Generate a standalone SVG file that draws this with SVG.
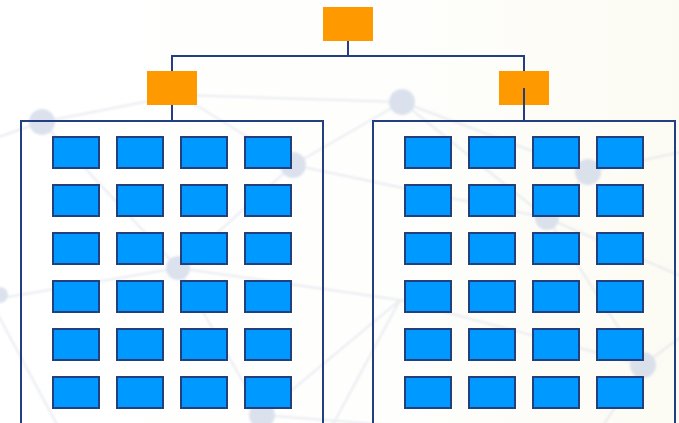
<svg xmlns="http://www.w3.org/2000/svg" width="679" height="423" viewBox="0 0 679 423">
  <defs>
    <linearGradient id="bg" x1="0" y1="0" x2="1" y2="0">
      <stop offset="0" stop-color="#ffffff"/>
      <stop offset="0.55" stop-color="#fefefd"/>
      <stop offset="1" stop-color="#fcfbf3"/>
    </linearGradient>
    <filter id="soft" x="-20%" y="-20%" width="140%" height="140%">
      <feGaussianBlur stdDeviation="1.2"/>
    </filter>
  </defs>
  <style>
    .web line { stroke: #dde1e9; stroke-width: 2; }
    .web circle { fill: #c9d3e4; }
    .head { fill: #ff9900; }
    .cell { fill: #0099ff; stroke: #233f80; stroke-width: 2; }
    .frame { fill: none; stroke: #233f80; stroke-width: 2; }
    .link { fill: none; stroke: #233f80; stroke-width: 2; }
  </style>

  <rect width="679" height="423" fill="url(#bg)"/>

  <!-- faint network backdrop -->
  <g class="web" filter="url(#soft)" opacity="0.65">
    <line x1="-10" y1="140" x2="42" y2="122"/>
    <line x1="42" y1="122" x2="180" y2="95"/>
    <line x1="180" y1="95" x2="402" y2="102"/>
    <line x1="42" y1="122" x2="178" y2="268"/>
    <line x1="180" y1="95" x2="293" y2="165"/>
    <line x1="293" y1="165" x2="178" y2="268"/>
    <line x1="293" y1="165" x2="402" y2="102"/>
    <line x1="293" y1="165" x2="547" y2="218"/>
    <line x1="402" y1="102" x2="588" y2="172"/>
    <line x1="402" y1="102" x2="547" y2="218"/>
    <line x1="588" y1="172" x2="547" y2="218"/>
    <line x1="588" y1="172" x2="690" y2="150"/>
    <line x1="547" y1="218" x2="643" y2="365"/>
    <line x1="547" y1="218" x2="690" y2="280"/>
    <line x1="643" y1="365" x2="690" y2="330"/>
    <line x1="643" y1="365" x2="600" y2="430"/>
    <line x1="178" y1="268" x2="262" y2="415"/>
    <line x1="178" y1="268" x2="-10" y2="300"/>
    <line x1="178" y1="268" x2="400" y2="300"/>
    <line x1="400" y1="300" x2="643" y2="365"/>
    <line x1="262" y1="415" x2="400" y2="300"/>
    <line x1="-10" y1="300" x2="60" y2="430"/>
    <line x1="262" y1="415" x2="450" y2="430"/>
    <line x1="400" y1="300" x2="330" y2="430"/>
    <circle cx="42" cy="122" r="13"/>
    <circle cx="293" cy="165" r="13"/>
    <circle cx="402" cy="102" r="13"/>
    <circle cx="178" cy="268" r="12"/>
    <circle cx="588" cy="172" r="13"/>
    <circle cx="547" cy="218" r="12"/>
    <circle cx="643" cy="365" r="13"/>
    <circle cx="262" cy="415" r="13"/>
    <circle cx="0" cy="295" r="8"/>
  </g>

  <!-- connectors -->
  <g id="connectors">
    <path class="link" d="M348 41 V56 M172 71 V56 H524 V71"/>
    <path class="link" d="M172 105 V120"/>
  </g>

  <!-- top level -->
  <g id="root">
    <rect class="head" x="323" y="7" width="50" height="34"/>
  </g>

  <!-- left branch -->
  <g id="branch-left">
    <rect class="head" x="147" y="71" width="50" height="34"/>
  </g>
  <g id="group-left">
    <path class="frame" d="M21 424 V121 H323 V424"/>
    <g id="cells-left">
      <rect class="cell" x="53" y="137" width="46" height="31"/>
      <rect class="cell" x="117" y="137" width="46" height="31"/>
      <rect class="cell" x="181" y="137" width="46" height="31"/>
      <rect class="cell" x="245" y="137" width="46" height="31"/>
      <rect class="cell" x="53" y="185" width="46" height="31"/>
      <rect class="cell" x="117" y="185" width="46" height="31"/>
      <rect class="cell" x="181" y="185" width="46" height="31"/>
      <rect class="cell" x="245" y="185" width="46" height="31"/>
      <rect class="cell" x="53" y="233" width="46" height="31"/>
      <rect class="cell" x="117" y="233" width="46" height="31"/>
      <rect class="cell" x="181" y="233" width="46" height="31"/>
      <rect class="cell" x="245" y="233" width="46" height="31"/>
      <rect class="cell" x="53" y="281" width="46" height="31"/>
      <rect class="cell" x="117" y="281" width="46" height="31"/>
      <rect class="cell" x="181" y="281" width="46" height="31"/>
      <rect class="cell" x="245" y="281" width="46" height="31"/>
      <rect class="cell" x="53" y="329" width="46" height="31"/>
      <rect class="cell" x="117" y="329" width="46" height="31"/>
      <rect class="cell" x="181" y="329" width="46" height="31"/>
      <rect class="cell" x="245" y="329" width="46" height="31"/>
      <rect class="cell" x="53" y="377" width="46" height="31"/>
      <rect class="cell" x="117" y="377" width="46" height="31"/>
      <rect class="cell" x="181" y="377" width="46" height="31"/>
      <rect class="cell" x="245" y="377" width="46" height="31"/>
    </g>
  </g>

  <!-- right branch -->
  <g id="branch-right">
    <rect class="head" x="499" y="71" width="50" height="34"/>
  </g>
  <path class="link" d="M524 88 V120"/>
  <g id="group-right">
    <path class="frame" d="M373 424 V121 H675 V424"/>
    <g id="cells-right">
      <rect class="cell" x="405" y="137" width="46" height="31"/>
      <rect class="cell" x="469" y="137" width="46" height="31"/>
      <rect class="cell" x="533" y="137" width="46" height="31"/>
      <rect class="cell" x="597" y="137" width="46" height="31"/>
      <rect class="cell" x="405" y="185" width="46" height="31"/>
      <rect class="cell" x="469" y="185" width="46" height="31"/>
      <rect class="cell" x="533" y="185" width="46" height="31"/>
      <rect class="cell" x="597" y="185" width="46" height="31"/>
      <rect class="cell" x="405" y="233" width="46" height="31"/>
      <rect class="cell" x="469" y="233" width="46" height="31"/>
      <rect class="cell" x="533" y="233" width="46" height="31"/>
      <rect class="cell" x="597" y="233" width="46" height="31"/>
      <rect class="cell" x="405" y="281" width="46" height="31"/>
      <rect class="cell" x="469" y="281" width="46" height="31"/>
      <rect class="cell" x="533" y="281" width="46" height="31"/>
      <rect class="cell" x="597" y="281" width="46" height="31"/>
      <rect class="cell" x="405" y="329" width="46" height="31"/>
      <rect class="cell" x="469" y="329" width="46" height="31"/>
      <rect class="cell" x="533" y="329" width="46" height="31"/>
      <rect class="cell" x="597" y="329" width="46" height="31"/>
      <rect class="cell" x="405" y="377" width="46" height="31"/>
      <rect class="cell" x="469" y="377" width="46" height="31"/>
      <rect class="cell" x="533" y="377" width="46" height="31"/>
      <rect class="cell" x="597" y="377" width="46" height="31"/>
    </g>
  </g>
</svg>
